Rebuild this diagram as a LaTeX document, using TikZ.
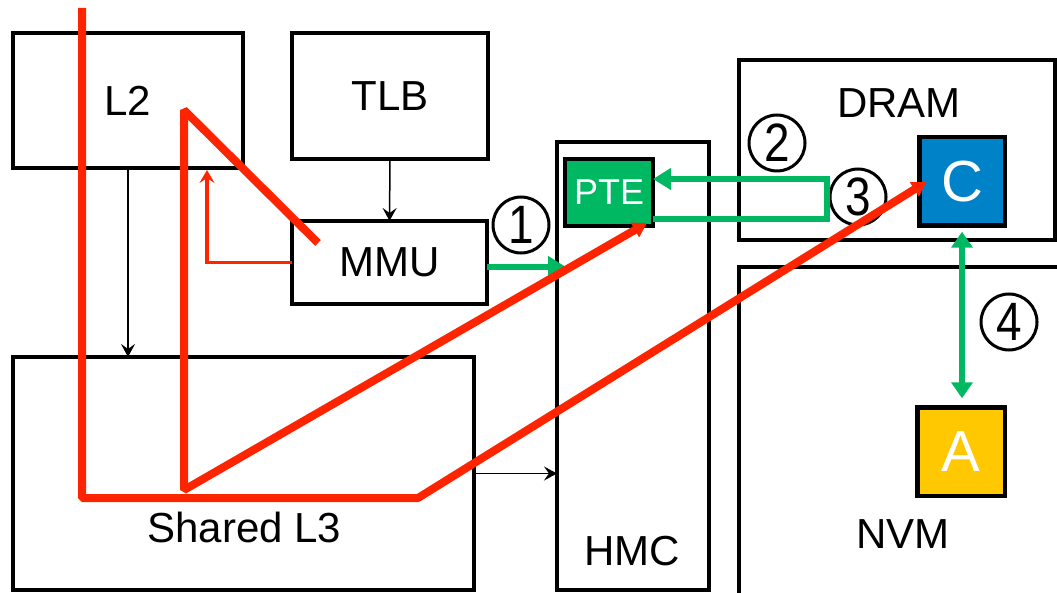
\documentclass[tikz,border=0pt]{standalone}
\usepackage{fontspec}
\usepackage{graphicx}
\setmainfont{Liberation Sans}
\usetikzlibrary{arrows.meta,calc}
\definecolor{rline}{RGB}{255,36,0}
\definecolor{gline}{RGB}{0,184,98}
\definecolor{cblue}{RGB}{0,130,200}
\definecolor{ayellow}{RGB}{255,200,0}
\newcommand{\cdig}[1]{\scalebox{0.85}[1]{#1}}
\begin{document}
\begin{tikzpicture}[x=1pt,y=-1pt,
  box/.style={draw,line width=3.3pt,inner sep=0pt,outer sep=0pt,font=\fontsize{42}{48}\selectfont},
  cell/.style={draw,line width=4.5pt,inner sep=0pt,outer sep=0pt,text=white},
  num/.style={draw,circle,line width=3pt,minimum size=56pt,inner sep=0pt,font=\fontsize{54}{56}\selectfont},
  lbl/.style={inner sep=0pt,anchor=base,font=\fontsize{42}{48}\selectfont},
  blk/.style={line width=1.5pt,-{Stealth[length=13pt,width=14pt,inset=5pt]}},
  rthick/.style={draw=rline,line width=8pt,line join=bevel,-{Triangle[length=14pt,width=16pt]}},
  rthin/.style={draw=rline,line width=3.5pt,-{Stealth[length=13pt,width=15pt,inset=5pt]}},
  gar/.style={draw=gline,line width=5.5pt,-{Triangle[length=18pt,width=21pt]}},
]
\useasboundingbox (0,0) rectangle (1057,593);

% boxes
\node[box,minimum width=230pt,minimum height=135pt] (L2) at (128,100.5) {L2};
\node[box,minimum width=196pt,minimum height=126pt] (TLB) at (390,96) {TLB};
\node[box,minimum width=195pt,minimum height=83pt] (MMU) at (389.5,262.5) {MMU};
\node[box,minimum width=461pt,minimum height=233pt] (L3) at (243.5,473.5) {};
\node[lbl] (L3t) at (244.5,542) {Shared L3};
\node[box,minimum width=152pt,minimum height=448pt] (HMC) at (633,366) {};
\node[lbl] (HMCt) at (632,565) {HMC};
\node[box,minimum width=316pt,minimum height=180pt] (DRAM) at (897,150) {};
\node[lbl] (DRAMt) at (899,118) {DRAM};
\coordinate (nvmR) at (1062,267);
\coordinate (nvmC) at (739,267);
\coordinate (nvmB) at (739,598);
\draw[line width=3.3pt] (nvmR) -- (nvmC) -- (nvmB);
\node[lbl] (NVMt) at (903,548) {NVM};

% coloured cells
\node[cell,fill=gline,minimum width=88pt,minimum height=67pt,font=\fontsize{36}{40}\selectfont] (PTE) at (609,192.5) {PTE};
\node[cell,fill=cblue,minimum width=85.5pt,minimum height=88.5pt,font=\fontsize{58}{60}\selectfont] (C) at (962,181.5) {C};
\node[cell,fill=ayellow,minimum width=87.5pt,minimum height=88.5pt,font=\fontsize{58}{60}\selectfont] (A) at (961,451.5) {A};

% circled numbers
\node[num] (n1) at (521,225) {\cdig{1}};
\node[num] (n2) at (777,143) {\cdig{2}};
\node[num] (n3) at (858,197) {\cdig{3}};
\node[num] (n4) at (1009,322) {\cdig{4}};

% black arrows
\draw[blk] (TLB.south) -- (MMU.north);
\draw[blk] (L2.south) -- (L2.south |- L3.north);
\draw[blk] (L3.east) -- (L3.east -| HMC.west);

% green arrows
\coordinate (g1) at ($(HMC.west |- MMU.east)+(9,4.5)$);
\draw[gar] ($(MMU.east)+(0,4.5)$) -- (g1);
\draw[gar] ($(PTE.east)+(0,26.5)$) -- ++(174,0) |- ($(PTE.east)+(0,-13.5)$);
\draw[gar,{Triangle[length=16pt,width=21pt]}-{Triangle[length=16pt,width=21pt]}]
  ($(C.south)+(0,6)$) -- ($(C.south |- A.north)+(0,-9)$);

% red paths
\coordinate (l2tip) at ($(L2.south east)+(-36,2)$);
\draw[rthin] (MMU.west) -| (l2tip);

\coordinate (r1top) at (82,8);
\coordinate (r1c) at (82,498);
\coordinate (r1d) at (418,498);
\coordinate (cTip) at ($(C.west)+(7,0.5)$);
\draw[rthick] (r1top) -- (r1c) -- (r1d) -- (cTip);

\coordinate (r2s) at (318,243);
\coordinate (r2a) at (184,110);
\coordinate (r2b) at (184,490);
\coordinate (pteTip) at ($(PTE.south east)+(-6,-3)$);
\draw[rthick] (r2s) -- (r2a) -- (r2b) -- (pteTip);
\end{tikzpicture}
\end{document}
